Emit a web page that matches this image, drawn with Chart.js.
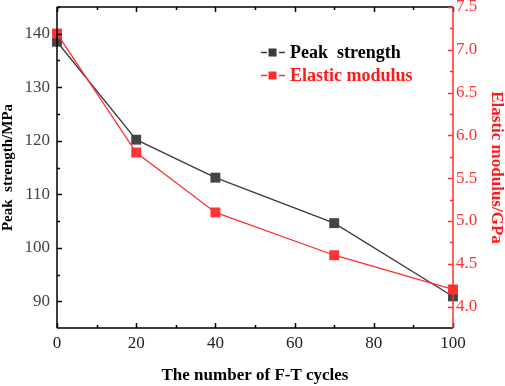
<!DOCTYPE html>
<html>
<head>
<meta charset="utf-8">
<script src="https://cdn.jsdelivr.net/npm/chart.js@4.4.1/dist/chart.umd.min.js"></script>
<style>
html,body{margin:0;padding:0;background:#fff;}
#wrap{position:relative;width:505px;height:386px;}
</style>
</head>
<body>
<div id="wrap"><canvas id="c" width="505" height="386"></canvas></div>
<script>
const cycles = [0, 20, 40, 70, 100];
const peakStrength = [138.5, 120.2, 113.1, 104.6, 90.9];
const elasticModulus = [7.19, 5.8, 5.1, 4.6, 4.2];
const xTicks = [0, 20, 40, 60, 80, 100];
const leftTicks = [90, 100, 110, 120, 130, 140];
const rightTicks = [4.0, 4.5, 5.0, 5.5, 6.0, 6.5, 7.0, 7.5];
const seriesNames = ['Peak  strength', 'Elastic modulus'];

const BLACK = '#3a3a3a';
const RED = '#ff2d2d';
const SERIF = '"Liberation Serif", "Times New Roman", serif';

const ticksPlugin = {
  id: 'innerTicks',
  afterDatasetsDraw(chart) {
    const ctx = chart.ctx;
    const a = chart.chartArea;
    const x = chart.scales.x, yl = chart.scales.yL, yr = chart.scales.yR;
    ctx.save();
    ctx.lineWidth = 1.5;
    ctx.strokeStyle = '#000';
    ctx.beginPath();
    ctx.moveTo(a.left, a.top); ctx.lineTo(a.right, a.top);
    ctx.moveTo(a.left, a.top); ctx.lineTo(a.left, a.bottom);
    ctx.moveTo(a.left, a.bottom); ctx.lineTo(a.right, a.bottom);
    ctx.stroke();
    ctx.beginPath();
    for (let v = x.min; v <= x.max + 1e-9; v += 10) {
      const px = Math.round(x.getPixelForValue(v)) + 0.5;
      const len = (v % 20 === 0) ? 5 : 3;
      ctx.moveTo(px, a.bottom); ctx.lineTo(px, a.bottom - len);
      ctx.moveTo(px, a.top); ctx.lineTo(px, a.top + len);
    }
    for (let v = 90; v <= yl.max + 1e-9; v += 5) {
      const py = Math.round(yl.getPixelForValue(v)) + 0.5;
      const len = (v % 10 === 0) ? 5 : 3;
      ctx.moveTo(a.left, py); ctx.lineTo(a.left + len, py);
    }
    ctx.stroke();
    ctx.strokeStyle = RED;
    ctx.beginPath();
    ctx.moveTo(a.right, a.top); ctx.lineTo(a.right, a.bottom);
    for (let v = 4.0; v <= yr.max + 1e-9; v += 0.25) {
      const py = Math.round(yr.getPixelForValue(v)) + 0.5;
      const major = Math.abs(v * 2 - Math.round(v * 2)) < 1e-6;
      const len = major ? 5 : 3;
      ctx.moveTo(a.right, py); ctx.lineTo(a.right - len, py);
    }
    ctx.stroke();
    ctx.restore();
  },
  afterDraw(chart) {
    const ctx = chart.ctx;
    const rows = [
      {label: chart.data.datasets[0].label, color: BLACK, text: '#000', y: 52},
      {label: chart.data.datasets[1].label, color: RED, text: '#ff1a1a', y: 75}
    ];
    ctx.save();
    ctx.font = 'bold 18px ' + SERIF;
    ctx.textBaseline = 'middle';
    rows.forEach(r => {
      ctx.strokeStyle = r.color;
      ctx.lineWidth = 1.5;
      ctx.beginPath();
      ctx.moveTo(261, r.y + 0.5); ctx.lineTo(267, r.y + 0.5);
      ctx.moveTo(279, r.y + 0.5); ctx.lineTo(285, r.y + 0.5);
      ctx.stroke();
      ctx.fillStyle = r.color;
      ctx.fillRect(268.5, r.y - 3.5, 8, 8);
      ctx.fillStyle = r.text;
      ctx.fillText(r.label, 290, r.y + 1);
    });
    ctx.restore();
  }
};

new Chart(document.getElementById('c'), {
  type: 'line',
  data: {
    datasets: [
      {
        label: seriesNames[0],
        data: cycles.map((c, i) => ({x: c, y: peakStrength[i]})),
        yAxisID: 'yL',
        borderColor: BLACK,
        backgroundColor: '#444',
        borderWidth: 1.3,
        pointStyle: 'rect',
        pointRadius: 7,
        pointBorderWidth: 0,
        tension: 0,
        clip: false,
        order: 1
      },
      {
        label: seriesNames[1],
        data: cycles.map((c, i) => ({x: c, y: elasticModulus[i]})),
        yAxisID: 'yR',
        borderColor: RED,
        backgroundColor: '#ff3333',
        borderWidth: 1.3,
        pointStyle: 'rect',
        pointRadius: 7,
        pointBorderWidth: 0,
        tension: 0,
        clip: false,
        order: 0
      }
    ]
  },
  options: {
    responsive: false,
    animation: false,
    devicePixelRatio: 1,
    layout: {padding: {top: 7, left: 0, right: 0, bottom: 0}},
    plugins: {legend: {display: false}, tooltip: {enabled: false}},
    scales: {
      x: {
        type: 'linear',
        min: 0, max: 100,
        grid: {display: false, drawTicks: false},
        border: {display: false},
        afterBuildTicks: s => { s.ticks = xTicks.map(v => ({value: v})); },
        afterFit: s => { s.height = 58; s.paddingLeft = 0; s.paddingRight = 0; },
        ticks: {color: '#222', padding: 5, font: {family: SERIF, size: 17}, maxRotation: 0},
        title: {display: true, text: 'The number of F-T cycles', color: '#000',
          font: {family: SERIF, size: 17, weight: 'bold', lineHeight: 1}, padding: {top: 0, bottom: 2}}
      },
      yL: {
        type: 'linear', position: 'left',
        min: 85, max: 145,
        grid: {display: false, drawTicks: false},
        border: {display: false},
        afterBuildTicks: s => { s.ticks = leftTicks.map(v => ({value: v})); },
        afterFit: s => { s.width = 57; s.paddingTop = 0; s.paddingBottom = 0; },
        ticks: {color: '#444', padding: 7, font: {family: SERIF, size: 17}},
        title: {display: true, text: 'Peak  strength/MPa', color: '#000',
          font: {family: SERIF, size: 15, weight: 'bold', lineHeight: 1}, padding: {top: 1, bottom: 0}}
      },
      yR: {
        type: 'linear', position: 'right',
        min: 3.75, max: 7.5,
        grid: {display: false, drawTicks: false},
        border: {display: false},
        afterBuildTicks: s => { s.ticks = rightTicks.map(v => ({value: v})); },
        afterFit: s => { s.width = 52; s.paddingTop = 0; s.paddingBottom = 0; },
        ticks: {color: '#ff3333', padding: 3, font: {family: SERIF, size: 17},
          callback: v => Number(v).toFixed(1)},
        title: {display: true, text: 'Elastic modulus/GPa', color: '#ff1a1a',
          font: {family: SERIF, size: 17, weight: 'bold', lineHeight: 1}, padding: {top: 0, bottom: 0}}
      }
    }
  },
  plugins: [ticksPlugin]
});
</script>
</body>
</html>
